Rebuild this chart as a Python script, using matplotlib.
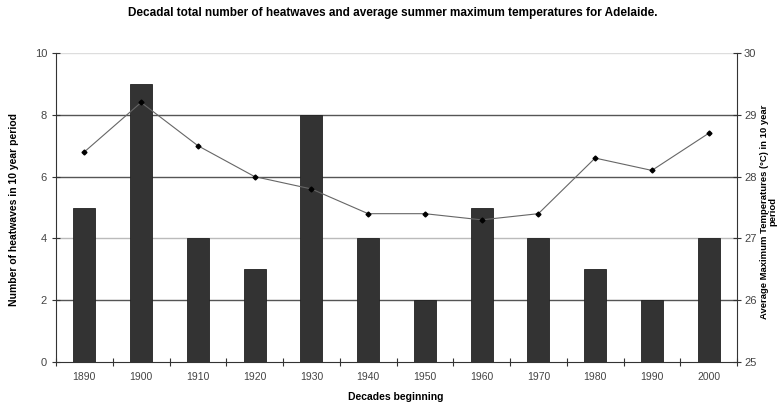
import matplotlib
matplotlib.use("Agg")
import matplotlib.pyplot as plt
import numpy as np

plt.rcParams['font.family'] = ['Liberation Sans', 'DejaVu Sans']

decades = ['1890', '1900', '1910', '1920', '1930', '1940', '1950', '1960', '1970', '1980', '1990', '2000']
heatwaves = [5, 9, 4, 3, 8, 4, 2, 5, 4, 3, 2, 4]
avg_max_temp = [28.4, 29.2, 28.5, 28.0, 27.8, 27.4, 27.4, 27.3, 27.4, 28.3, 28.1, 28.7]

fig = plt.figure(figsize=(7.82, 4.07), dpi=100)
ax = fig.add_axes([56/782, 1-362/407, (737-56)/782, (362-53)/407])
x = np.arange(len(decades))

for yv, c in [(2, '#555555'), (4, '#bbbbbb'), (6, '#555555'), (8, '#555555'), (10, '#dddddd')]:
    ax.axhline(yv, color=c, lw=1.0, zorder=0)

ax.bar(x, heatwaves, width=0.39, color='#333333', edgecolor='#222222', lw=0.6, zorder=2)
ax.set_xlim(-0.5, len(decades) - 0.5)
ax.set_ylim(0, 10)
ax.set_yticks([0, 2, 4, 6, 8, 10])
ax.set_xticks(x)
ax.set_xticklabels(decades)
ax.set_xticks(np.arange(-0.5, len(decades)), minor=True)
ax.tick_params(axis='x', which='major', length=0, labelsize=7.5, labelcolor='#444444', pad=7)
ax.tick_params(axis='x', which='minor', length=6, direction='inout', width=0.8, color='#333333')
ax.tick_params(axis='y', length=6, direction='inout', width=0.8, labelsize=8, labelcolor='#444444', color='#333333')
for s in ['top', 'right']:
    ax.spines[s].set_visible(False)
for s in ['left', 'bottom']:
    ax.spines[s].set_color('#333333')
    ax.spines[s].set_linewidth(0.8)

ax2 = ax.twinx()
ax2.plot(x, avg_max_temp, color='#666666', lw=0.8, marker='D', markersize=2.5, markerfacecolor='#000000', markeredgecolor='#000000', zorder=3)
ax2.set_ylim(25, 30)
ax2.set_yticks([25, 26, 27, 28, 29, 30])
ax2.tick_params(axis='y', length=6, direction='inout', width=0.8, labelsize=8, labelcolor='#444444', color='#333333', pad=2)
for s in ['top', 'left', 'bottom']:
    ax2.spines[s].set_visible(False)
ax2.spines['right'].set_color('#333333')
ax2.spines['right'].set_linewidth(0.8)

fig.text(393/782, 1-13/407, 'Decadal total number of heatwaves and average summer maximum temperatures for Adelaide.',
         ha='center', va='center', fontsize=8.5, fontweight='bold')
fig.text(14/782, 1-210/407, 'Number of heatwaves in 10 year period', rotation=90,
         ha='center', va='center', fontsize=7.5, fontweight='bold')
fig.text(396/782, 1-397/407, 'Decades beginning', ha='center', va='center', fontsize=7.5, fontweight='bold')
fig.text(769/782, 1-212/407, 'Average Maximum Temperatures (\u00b0C) in 10 year\nperiod', rotation=90,
         ha='center', va='center', fontsize=6.8, fontweight='bold', multialignment='center', linespacing=0.95)

fig.savefig('out.png', dpi=100)
